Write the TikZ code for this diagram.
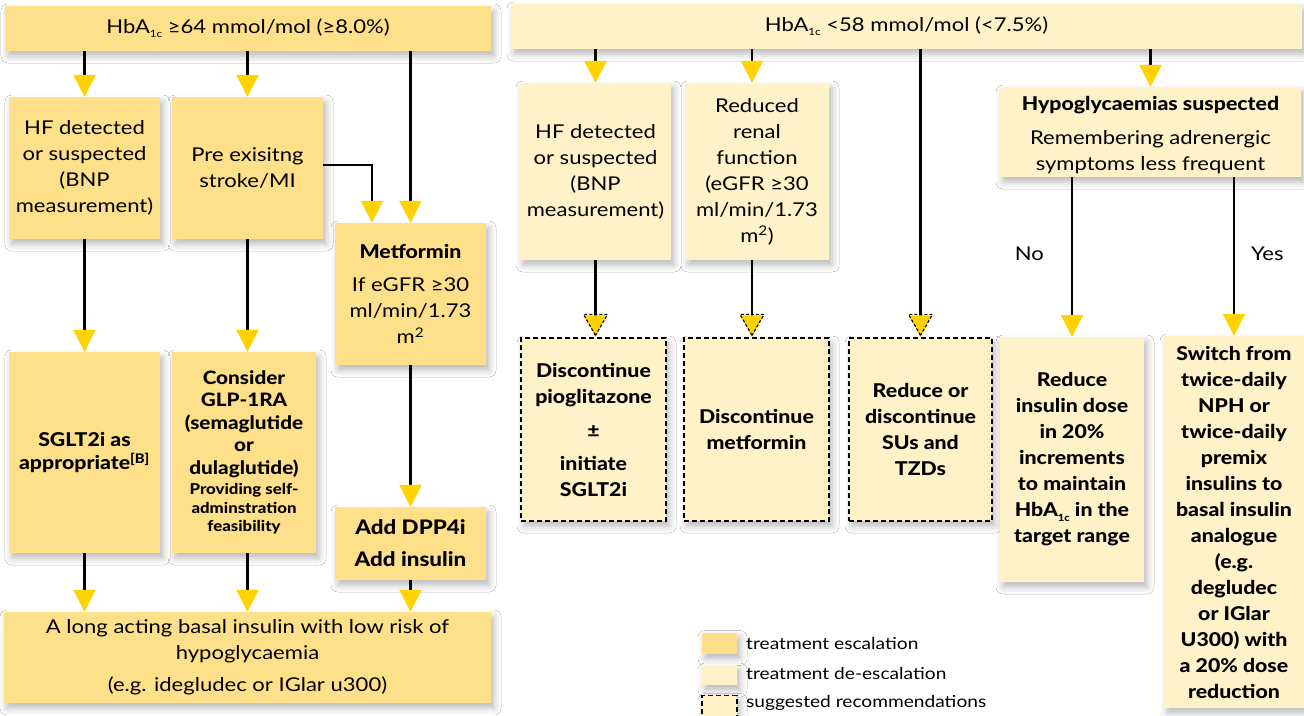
\documentclass[tikz,border=0pt]{standalone}
\usepackage{fontspec}
\setmainfont{Lato}[FakeStretch=1.16,BoldFont={Lato Heavy},BoldFeatures={FakeStretch=1.12}]
\usetikzlibrary{arrows.meta,shadows.blur,calc}
\definecolor{esc}{RGB}{255,224,138}
\definecolor{desc}{RGB}{255,242,201}
\definecolor{ayel}{RGB}{255,210,0}
\newcommand\subsc[1]{\raisebox{-0.45ex}{\fontsize{10}{10}\selectfont #1}}
\newcommand\smtxt[1]{{\fontsize{15}{18}\selectfont #1}}
\newcommand\dtri[1]{\draw[black,line width=1.1pt,dash pattern=on 3pt off 2pt,line join=round] ($(#1)+(0,-2)$) -- ++(-12,-21) -- ++(24,0) -- cycle;}
\tikzset{
  sh/.style={blur shadow={shadow xshift=3pt,shadow yshift=-5pt,shadow blur radius=7pt,shadow opacity=28}},
  base/.style={inner sep=0pt,align=center,font=\fontsize{19}{26}\selectfont},
  escbox/.style={base,fill=esc,sh},
  descbox/.style={base,fill=desc,sh},
  sugg/.style={descbox,draw=black,line width=1.3pt,dash pattern=on 5pt off 3pt,font=\fontsize{19}{26}\selectfont\bfseries},
  conn/.style={line width=2.2pt,-{Triangle[width=22pt,length=22pt,color=ayel]}},
  lab/.style={inner sep=0pt,font=\fontsize{19}{26}\selectfont},
  legt/.style={inner sep=0pt,anchor=west,font=\fontsize{16.5}{18}\selectfont}
}
\begin{document}
\begin{tikzpicture}[x=1pt,y=-1pt]
\useasboundingbox[fill=white] (0,0) rectangle (1304,715);
% headers
\node[escbox,minimum width=486,minimum height=45] (hl) at (248,28.5) {HbA\subsc{1c} ≥64 mmol/mol (≥8.0\%)};
\node[descbox,minimum width=791,minimum height=45] (hr) at (906.5,26.5) {HbA\subsc{1c} <58 mmol/mol (<7.5\%)};
% left column
\node[escbox,minimum width=151,minimum height=142] (hf1) at (84.5,168) {HF detected\\or suspected\\(BNP\\measurement)};
\node[escbox,minimum width=151,minimum height=142] (pre) at (247.5,168) {Pre exisitng\\stroke/MI};
\node[escbox,minimum width=151,minimum height=142] (met) at (410.5,294) {{\bfseries Metformin}\\[7pt]If eGFR ≥30\\ml/min/1.73\\m\textsuperscript{2}};
\node[escbox,minimum width=151,minimum height=73,font=\fontsize{20}{32}\selectfont\bfseries] (dpp) at (410.5,543.5) {Add DPP4i\\Add insulin};
\node[escbox,minimum width=151,minimum height=201,font=\fontsize{19}{23}\selectfont\bfseries] (sglt) at (84.5,452.5) {SGLT2i as\\appropriate\textsuperscript{[B]}};
\node[escbox,minimum width=144,minimum height=201,font=\fontsize{18.5}{22.5}\selectfont\bfseries] (glp) at (244,452.5) {Consider\\GLP-1RA\\(semaglutide\\or\\dulaglutide)\\[-2pt]\smtxt{Providing self-}\\[-4pt]\smtxt{adminstration}\\[-4pt]\smtxt{feasibility}};
\node[escbox,minimum width=487,minimum height=91] (bot) at (247.5,657.5) {A long acting basal insulin with low risk of\\hypoglycaemia\\[6pt](e.g. idegludec or IGlar u300)};
\draw[conn] (hl.south -| hf1.north) -- (hf1.north);
\draw[conn] (hl.south -| pre.north) -- (pre.north);
\draw[conn] (hl.south -| met.north) -- (met.north);
\draw[conn] ([yshift=3pt]pre.east) -| ([xshift=-38.5pt]met.north);
\draw[conn] (hf1.south) -- (sglt.north);
\draw[conn] (pre.south) -- (pre.south |- glp.north);
\draw[conn] (met.south) -- (dpp.north);
\draw[conn] (sglt.south) -- (sglt.south |- bot.north);
\draw[conn] (pre.south |- glp.south) -- (pre.south |- bot.north);
\draw[conn] (dpp.south) -- (dpp.south |- bot.north);
% right column
\node[descbox,minimum width=151,minimum height=177] (hf2) at (595.5,171.5) {HF detected\\or suspected\\(BNP\\measurement)};
\node[descbox,minimum width=144,minimum height=177] (ren) at (757,171.5) {Reduced\\renal\\function\\(eGFR ≥30\\ml/min/1.73\\m\textsuperscript{2})};
\node[sugg,minimum width=145,minimum height=183] (d1) at (593.5,429.5) {Discontinue\\pioglitazone\\[8pt]±\\[7pt]initiate\\SGLT2i};
\node[sugg,minimum width=145,minimum height=183] (d2) at (756.5,429.5) {Discontinue\\metformin};
\node[sugg,minimum width=143,minimum height=183] (d3) at (920.5,429.5) {Reduce or\\discontinue\\SUs and\\TZDs};
\node[descbox,minimum width=301,minimum height=90] (hyp) at (1150.5,132) {\rule{0pt}{20pt}{\bfseries Hypoglycaemias suspected}\\[8pt]Remembering adrenergic\\symptoms less frequent};
\node[descbox,minimum width=144,minimum height=245,font=\fontsize{19}{26}\selectfont\bfseries] (red) at (1072,459.5) {Reduce\\insulin dose\\in 20\%\\increments\\to maintain\\HbA\subsc{1c} in the\\target range};
\node[descbox,minimum width=140,minimum height=372,font=\fontsize{19}{26}\selectfont\bfseries] (sw) at (1234,522) {Switch from\\twice-daily\\NPH or\\twice-daily\\premix\\insulins to\\basal insulin\\analogue\\(e.g.\\degludec\\or IGlar\\U300) with\\a 20\% dose\\reduction};
\draw[conn] (hr.south -| hf2.north) -- (hf2.north);
\draw[conn] ([xshift=-5pt]hr.south -| ren.north) -- ([xshift=-5pt]ren.north);
\draw[conn] (hr.south -| d3.north) -- (d3.north);
\dtri{d3.north}
\draw[conn] (hr.south -| hyp.north) -- (hyp.north);
\draw[conn] (hf2.south) -- (hf2.south |- d1.north);
\dtri{hf2.south |- d1.north}
\draw[conn] ([xshift=-5pt]ren.south) -- ([xshift=-5pt]ren.south |- d2.north);
\dtri{[xshift=-5pt]ren.south |- d2.north}
\draw[conn] (hyp.south -| red.north) -- (red.north) node[lab,pos=.48,left=27pt] {No};
\draw[conn] (hyp.south -| sw.north) -- (sw.north) node[lab,pos=.48,right=16pt] {Yes};
% legend
\node[escbox,minimum width=35,minimum height=21] (l1) at (719.5,643) {};
\node[legt] (l1t) at (746,643) {treatment escalation};
\node[descbox,minimum width=35,minimum height=20] (l2) at (719.5,675) {};
\node[legt] (l2t) at (746,673) {treatment de-escalation};
\node[descbox,draw=black,line width=1.3pt,dash pattern=on 5pt off 3pt,minimum width=35,minimum height=21] (l3) at (719.5,706) {};
\node[legt] (l3t) at (746,703) {suggested recommendations};
\end{tikzpicture}
\end{document}
